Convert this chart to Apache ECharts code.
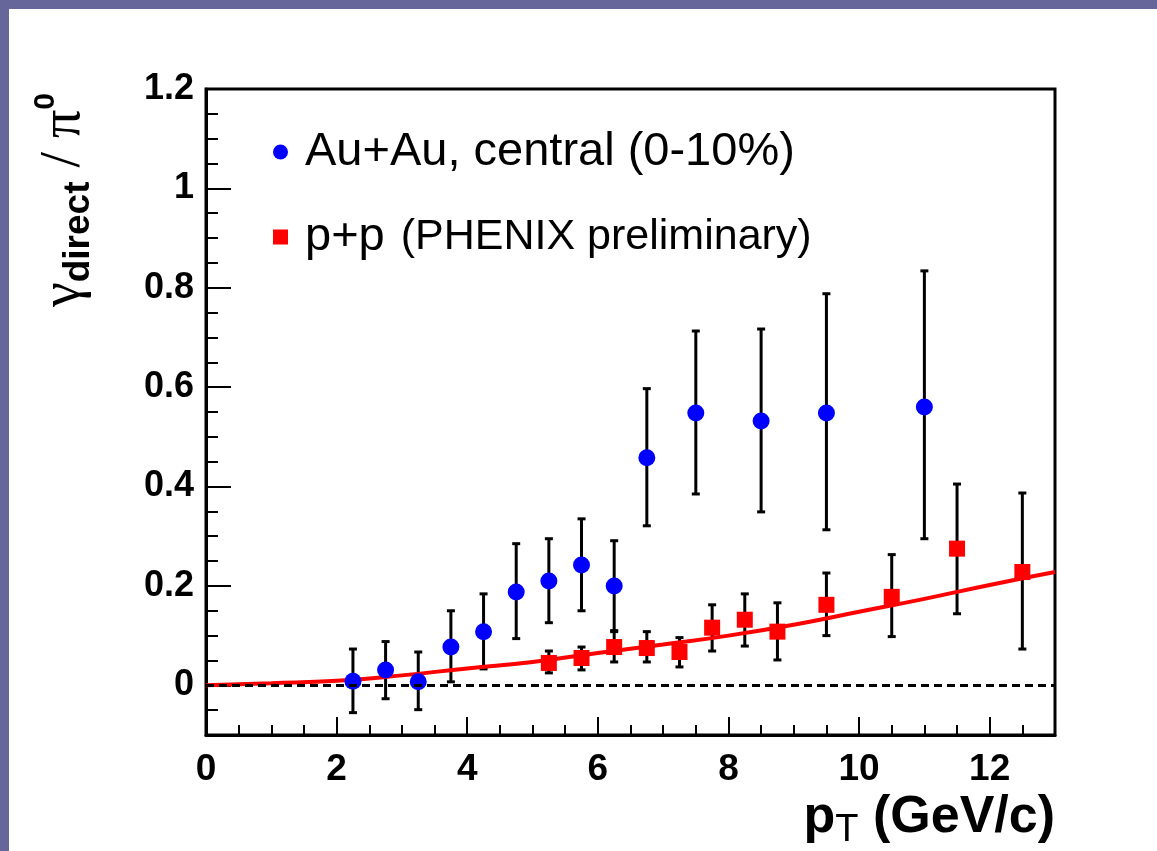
<!DOCTYPE html>
<html>
<head>
    <meta charset="utf-8">
    <title>direct photon / pi0</title>
    <script src="https://cdn.jsdelivr.net/npm/echarts@6/dist/echarts.min.js"></script>
    <style>
        body { margin: 0; background: #fff; }
        #main { width: 1157px; height: 851px; }
    </style>
</head>
<body>
    <div id="main"></div>
    <script type="text/javascript">
        // Au+Au central (0-10%)
        var auX  = [2.25, 2.75, 3.25, 3.75, 4.25, 4.75, 5.25, 5.75, 6.25, 6.75, 7.5, 8.5, 9.5, 11];
        var auY  = [0.008, 0.031, 0.007, 0.077, 0.108, 0.188, 0.21, 0.242, 0.2, 0.458, 0.548, 0.532, 0.548, 0.56];
        var auLo = [-0.055, -0.027, -0.049, 0.007, 0.033, 0.094, 0.126, 0.15, 0.11, 0.321, 0.385, 0.349, 0.313, 0.295];
        var auHi = [0.073, 0.088, 0.067, 0.15, 0.184, 0.285, 0.295, 0.335, 0.291, 0.597, 0.713, 0.717, 0.788, 0.834];

        // p+p (PHENIX preliminary)
        var ppX  = [5.25, 5.75, 6.25, 6.75, 7.25, 7.75, 8.25, 8.75, 9.5, 10.5, 11.5, 12.5];
        var ppY  = [0.045, 0.055, 0.077, 0.075, 0.067, 0.116, 0.132, 0.108, 0.162, 0.178, 0.275, 0.228];
        var ppLo = [0.025, 0.031, 0.047, 0.047, 0.037, 0.069, 0.079, 0.051, 0.1, 0.098, 0.144, 0.073];
        var ppHi = [0.069, 0.077, 0.108, 0.108, 0.096, 0.162, 0.184, 0.166, 0.226, 0.263, 0.405, 0.387];

        // fit curve
        var fitX = [0, 1, 2, 3, 4, 5, 6, 7, 8, 9, 10, 11, 12, 13];
        var fitY = [0, 0.004, 0.009, 0.02, 0.034, 0.047, 0.065, 0.082, 0.1, 0.122, 0.148, 0.174, 0.202, 0.228];

        var auName = 'Au+Au, central (0-10%)';
        var ppName = 'p+p';

        var myChart = echarts.init(document.getElementById('main'));

        function zip2(xs, ys) {
            return xs.map(function (x, i) { return [x, ys[i]]; });
        }
        function errData(xs, lo, hi) {
            return xs.map(function (x, i) { return [x, lo[i], hi[i]]; });
        }
        function errBar(params, api) {
            var x = api.value(0);
            var a = api.coord([x, api.value(1)]);
            var b = api.coord([x, api.value(2)]);
            var w = 4;
            var st = { stroke: '#000', lineWidth: 3 };
            return {
                type: 'group',
                children: [
                    { type: 'line', shape: { x1: a[0], y1: a[1], x2: b[0], y2: b[1] }, style: st },
                    { type: 'line', shape: { x1: a[0] - w, y1: a[1], x2: a[0] + w, y2: a[1] }, style: st },
                    { type: 'line', shape: { x1: b[0] - w, y1: b[1], x2: b[0] + w, y2: b[1] }, style: st }
                ]
            };
        }

        var sans = 'Liberation Sans, Arial, sans-serif';

        var option = {
            animation: false,
            backgroundColor: '#fff',
            grid: {
                left: 206, top: 89, right: 102, bottom: 116,
                show: true, borderColor: '#000', borderWidth: 3
            },
            legend: {
                data: [auName, ppName],
                orient: 'vertical',
                left: 268, top: 123,
                itemWidth: 15, itemHeight: 15,
                itemGap: 37,
                selectedMode: false,
                formatter: function (name) {
                    if (name === ppName) return '{a|p+p}{b|(PHENIX preliminary)}';
                    return '{a|' + name + '}';
                },
                textStyle: {
                    color: '#000',
                    lineHeight: 48,
                    rich: {
                        a: { fontSize: 47, fontFamily: sans, color: '#000', padding: [0, 0, 0, 12] },
                        b: { fontSize: 43, fontFamily: sans, color: '#000', padding: [0, 0, 0, 16] }
                    }
                }
            },
            xAxis: [
                {
                    type: 'value', min: 0, max: 13, interval: 2, position: 'bottom',
                    axisLine: { onZero: false, lineStyle: { color: '#000', width: 3 } },
                    axisTick: { inside: true, length: 18, lineStyle: { color: '#000', width: 2 } },
                    axisLabel: { color: '#000', fontSize: 37, fontWeight: 'bold', fontFamily: sans, margin: 16, showMaxLabel: false },
                    splitLine: { show: false }
                },
                {
                    type: 'value', min: 0, max: 13, interval: 0.5, position: 'bottom',
                    axisLine: { show: false, onZero: false },
                    axisTick: { inside: true, length: 10, lineStyle: { color: '#000', width: 2 } },
                    axisLabel: { show: false },
                    splitLine: { show: false }
                }
            ],
            yAxis: [
                {
                    type: 'value', min: -0.1, max: 1.2, splitNumber: 6, position: 'left',
                    axisLine: { onZero: false, lineStyle: { color: '#000', width: 3 } },
                    axisTick: { inside: true, length: 25, lineStyle: { color: '#000', width: 2 } },
                    axisLabel: { color: '#000', fontSize: 36, fontWeight: 'bold', fontFamily: sans, margin: 12, showMinLabel: false },
                    splitLine: { show: false }
                },
                {
                    type: 'value', min: -0.1, max: 1.2, interval: 0.05, position: 'left',
                    axisLine: { show: false, onZero: false },
                    axisTick: { inside: true, length: 12, lineStyle: { color: '#000', width: 2 } },
                    axisLabel: { show: false },
                    splitLine: { show: false }
                }
            ],
            series: [
                {
                    name: 'fit',
                    type: 'line',
                    data: zip2(fitX, fitY),
                    smooth: true,
                    symbol: 'none',
                    z: 3,
                    lineStyle: { color: '#ff0000', width: 4 },
                    itemStyle: { color: '#ff0000' },
                    markLine: {
                        silent: true,
                        symbol: 'none',
                        label: { show: false },
                        lineStyle: { color: '#000', width: 3, type: [8, 5] },
                        data: [{ yAxis: 0 }]
                    }
                },
                {
                    type: 'custom',
                    renderItem: errBar,
                    data: errData(auX, auLo, auHi),
                    encode: { x: 0, y: [1, 2] },
                    z: 2
                },
                {
                    type: 'custom',
                    renderItem: errBar,
                    data: errData(ppX, ppLo, ppHi),
                    encode: { x: 0, y: [1, 2] },
                    z: 2
                },
                {
                    name: auName,
                    type: 'scatter',
                    data: zip2(auX, auY),
                    symbol: 'circle',
                    symbolSize: 17,
                    itemStyle: { color: '#0000ff', opacity: 1 },
                    z: 4
                },
                {
                    name: ppName,
                    type: 'scatter',
                    data: zip2(ppX, ppY),
                    symbol: 'rect',
                    symbolSize: 16,
                    itemStyle: { color: '#ff0000', opacity: 1 },
                    z: 4
                }
            ],
            graphic: [
                { type: 'rect', shape: { x: 0, y: 0, width: 1157, height: 9 }, style: { fill: '#66669a' }, z: 100 },
                { type: 'rect', shape: { x: 0, y: 0, width: 9, height: 851 }, style: { fill: '#66669a' }, z: 100 },
                {
                    type: 'text', x: 1055, y: 818, z: 100,
                    style: {
                        text: '{p|p}{t|T}{p| (GeV/c)}',
                        align: 'right', verticalAlign: 'middle',
                        rich: {
                            p: { fontSize: 52, fontWeight: 'bold', fontFamily: sans, fill: '#000', lineHeight: 64 },
                            t: { fontSize: 38, fontFamily: sans, fill: '#000', lineHeight: 20, verticalAlign: 'bottom' }
                        }
                    }
                },
                {
                    type: 'text', x: 64, y: 200, rotation: Math.PI / 2, z: 100,
                    style: {
                        text: '{g|γ}{d|direct}{g| / π}{s|0}',
                        align: 'center', verticalAlign: 'middle',
                        rich: {
                            g: { fontSize: 56, fontFamily: 'Liberation Serif, serif', fill: '#000', lineHeight: 66 },
                            d: { fontSize: 37, fontWeight: 'bold', fontFamily: sans, fill: '#000', lineHeight: 20, verticalAlign: 'bottom' },
                            s: { fontSize: 30, fontWeight: 'bold', fontFamily: sans, fill: '#000', lineHeight: 22, verticalAlign: 'top' }
                        }
                    }
                }
            ]
        };
        myChart.setOption(option);
    </script>
</body>
</html>
